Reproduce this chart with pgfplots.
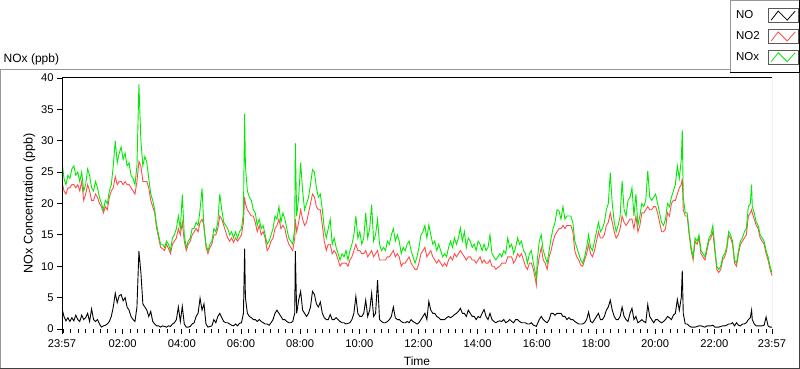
\documentclass[border=0pt]{standalone}
\usepackage{fontspec}
\setmainfont{Liberation Sans}
\usepackage{pgfplots}
\usepackage{pgfplotstable}
\pgfplotsset{compat=1.18}
\definecolor{noxgreen}{RGB}{0,235,0}
\definecolor{notwored}{RGB}{255,77,77}
\definecolor{framegray}{RGB}{150,150,150}

\pgfplotstableread{
t no no2 nox
0 3.3 23.5 26.8
4 2.0 22.0 24.0
8 1.3 21.5 23.0
12 1.8 22.5 24.5
16 1.2 22.5 24.0
20 1.8 23.0 25.5
24 1.3 23.0 26.0
28 2.2 22.5 24.5
32 1.5 23.0 25.0
36 1.2 22.0 23.5
40 2.2 23.5 25.0
44 1.5 20.5 22.0
48 1.8 21.5 23.0
52 2.5 23.0 25.5
56 1.2 22.0 24.5
60 3.2 20.5 22.5
64 1.5 20.5 22.0
68 1.2 21.5 23.5
72 1.5 21.0 22.5
76 0.8 20.0 21.0
80 0.3 19.5 20.0
84 0.5 18.5 19.0
88 0.6 19.5 20.5
92 0.8 19.0 20.0
96 1.2 21.0 22.0
100 2.0 22.0 23.0
104 3.5 22.5 26.0
108 5.7 24.3 30.0
112 4.2 23.0 26.5
116 5.3 23.5 28.0
120 5.5 23.5 29.0
124 4.5 23.0 27.0
128 5.0 23.5 28.0
132 3.5 23.0 26.0
136 3.0 23.0 26.5
140 2.0 22.5 24.5
144 1.5 22.0 24.0
148 1.2 21.5 23.0
152 3.5 23.5 26.0
156 12.4 26.7 39.0
160 9.0 26.0 30.0
164 4.0 23.5 26.0
168 3.5 23.5 27.5
172 3.0 23.5 26.5
176 2.0 22.5 24.0
180 2.8 20.5 21.5
184 1.2 19.5 20.5
188 0.8 18.5 19.0
192 0.5 16.0 16.5
196 0.5 14.5 15.0
200 0.3 13.0 13.5
204 0.5 12.8 13.5
208 0.4 12.5 13.0
212 0.3 13.5 14.0
216 0.5 12.8 13.5
220 0.4 12.0 12.5
224 0.8 13.5 14.5
228 1.0 14.0 15.0
232 1.5 14.5 16.0
236 3.5 16.0 18.0
240 1.2 15.0 16.0
244 3.6 17.0 21.4
248 0.8 14.0 15.0
252 0.3 12.5 13.0
256 0.3 13.5 14.0
260 0.4 14.0 14.5
264 0.8 15.0 16.0
268 1.0 15.5 16.0
272 2.0 16.0 17.0
276 2.5 15.5 16.5
280 4.9 17.0 19.0
284 3.0 17.5 22.4
288 4.0 16.5 16.0
292 0.8 13.0 13.5
296 0.3 12.0 12.5
300 0.4 13.0 13.5
304 0.5 13.5 14.0
308 1.5 15.0 16.0
312 1.0 15.0 15.5
316 2.0 16.0 17.0
320 2.5 18.0 21.5
324 1.8 17.5 19.0
328 1.2 16.5 17.0
332 1.0 15.5 16.5
336 1.0 14.5 16.0
340 0.8 14.0 15.0
344 0.6 14.5 15.5
348 0.5 13.8 14.5
352 0.8 14.5 15.5
356 0.5 14.0 14.5
360 0.9 14.5 15.5
364 1.0 15.0 16.0
368 2.5 17.0 18.5
370.4 12.8 21.0 34.3
372 5.0 20.0 26.0
376 2.5 19.0 22.0
380 2.0 18.5 21.0
384 1.8 18.0 20.5
388 1.5 18.0 19.0
392 1.5 17.0 18.5
396 1.2 15.5 16.5
400 1.5 16.5 17.5
404 1.2 15.0 16.0
408 1.0 15.5 16.5
412 0.8 14.5 15.0
416 0.8 12.5 13.5
420 0.6 13.0 14.0
424 1.0 14.0 15.0
428 1.5 14.5 16.0
432 2.5 16.0 18.0
436 3.0 16.5 17.5
440 2.5 17.5 19.5
444 2.0 16.0 17.0
448 1.5 16.5 18.5
452 1.5 16.0 17.5
456 1.2 14.5 16.0
460 1.0 13.5 14.5
464 1.0 13.0 14.0
468 1.2 12.5 13.5
472 2.5 14.5 16.0
473.2 12.4 17.5 29.6
476 2.5 15.5 18.0
480 4.6 17.0 21.0
484 6.0 19.0 26.5
488 3.0 17.5 22.0
492 2.5 16.5 19.0
496 2.0 17.0 20.0
500 2.5 18.5 21.0
504 3.5 20.0 23.0
508 6.0 21.5 25.4
512 5.5 21.0 25.0
516 4.0 19.5 22.5
520 3.5 19.0 21.0
524 4.3 19.0 21.5
528 2.5 16.5 19.0
532 1.8 14.0 16.0
536 1.5 12.5 14.5
540 1.5 13.5 16.0
544 2.3 13.5 17.5
548 1.5 12.0 13.5
552 1.5 12.5 14.5
556 1.8 12.0 13.0
560 1.5 11.0 12.0
564 1.2 10.0 11.0
568 1.0 10.5 12.0
572 1.0 10.5 11.5
576 0.8 10.5 12.5
580 0.9 10.0 11.0
584 1.0 11.0 12.5
588 1.5 11.5 13.5
592 2.5 12.5 15.0
596 5.2 13.5 18.0
600 2.5 12.5 14.5
604 2.0 12.5 15.5
608 2.0 12.0 13.5
612 2.5 12.0 14.5
616 4.6 12.5 18.5
620 2.0 11.5 14.5
624 3.0 12.0 16.0
628 5.7 12.5 19.8
632 2.0 11.5 14.0
636 2.5 12.0 15.0
640 7.8 12.5 17.5
644 1.5 11.0 13.5
648 1.2 11.0 12.5
652 1.0 11.0 13.0
656 1.0 11.0 12.5
660 1.2 11.5 14.0
664 1.5 11.5 13.5
668 2.0 12.0 15.0
672 3.5 12.5 16.0
676 1.8 11.5 14.0
680 1.5 12.0 15.0
684 1.5 11.5 14.0
688 1.2 10.0 12.0
692 1.0 10.5 13.0
696 1.0 10.5 12.5
700 1.2 11.0 13.5
704 1.0 11.5 14.0
708 1.5 10.5 12.5
712 1.2 10.0 11.5
716 1.0 9.5 10.5
720 0.8 9.5 11.5
724 1.0 10.5 13.0
728 1.5 12.0 15.0
732 2.0 12.5 15.5
736 2.5 13.0 16.5
740 1.5 11.5 14.5
744 4.4 12.0 16.6
748 3.0 12.5 15.0
752 2.5 11.5 13.5
756 2.5 11.0 14.0
760 2.0 10.5 12.5
764 1.8 11.0 13.5
768 1.5 10.5 12.5
772 1.5 10.0 11.5
776 1.5 10.5 12.0
780 1.8 10.0 11.5
784 2.0 11.0 13.0
788 1.8 11.5 14.0
792 2.0 11.0 13.0
796 2.3 12.0 14.5
800 2.5 11.5 13.5
804 2.8 12.0 14.5
808 3.3 12.5 16.1
812 2.5 12.0 14.0
816 2.5 11.5 15.5
820 2.0 11.0 13.0
824 3.0 11.5 14.5
828 2.5 11.5 14.0
832 2.0 11.0 13.0
836 2.0 11.0 13.5
840 1.5 10.5 12.5
844 2.0 11.0 14.0
848 1.8 11.5 13.5
852 2.5 10.5 12.5
856 3.1 11.0 13.5
860 2.0 10.5 12.5
864 1.5 10.5 13.0
868 2.5 11.0 15.0
872 1.5 10.0 12.0
876 1.2 10.0 11.5
880 1.0 9.5 11.0
884 1.2 9.8 11.5
888 1.3 10.0 12.0
892 1.2 10.5 11.5
896 1.5 10.5 12.5
900 1.0 10.5 12.0
904 1.2 11.5 14.5
908 1.5 11.5 13.0
912 1.2 11.5 13.5
916 1.0 10.5 12.0
920 1.5 11.0 13.0
924 1.5 12.0 14.5
928 1.2 11.5 13.5
932 1.0 12.0 14.0
936 1.0 11.0 12.5
940 1.0 10.0 12.0
944 0.8 9.5 10.5
948 0.8 10.5 12.0
952 1.0 10.5 12.5
956 0.6 9.5 10.5
960 0.5 8.0 9.0
962 0.4 7.0 8.1
964 0.8 9.5 11.0
968 1.5 11.5 14.0
972 2.0 13.0 15.0
976 1.5 11.0 12.5
980 1.2 10.5 11.5
984 1.0 9.5 10.5
988 1.5 11.5 12.5
992 2.5 12.5 14.5
996 2.5 14.0 16.0
1000 2.2 15.0 17.0
1004 2.5 15.5 19.0
1008 2.5 16.0 18.8
1012 2.5 16.0 17.5
1016 2.0 16.5 19.5
1020 2.0 16.0 17.5
1024 1.5 16.5 18.0
1028 1.8 16.5 18.0
1032 1.5 16.5 18.0
1036 1.5 15.5 17.0
1040 1.2 12.5 14.0
1044 1.0 11.5 13.0
1048 0.8 11.0 12.0
1052 0.8 10.2 11.0
1056 0.8 10.0 10.5
1060 1.0 11.0 11.5
1064 1.5 12.0 13.0
1068 2.7 13.5 15.0
1072 1.2 12.0 13.0
1076 1.0 11.5 12.5
1080 1.5 12.5 14.0
1084 2.0 14.0 15.5
1088 2.5 15.5 17.0
1092 1.5 14.5 15.5
1096 1.5 14.5 16.0
1100 2.0 15.0 17.0
1104 3.0 16.5 19.0
1108 3.5 17.0 20.0
1112 4.6 18.5 24.9
1116 3.0 17.0 20.0
1120 2.0 15.5 17.0
1124 1.5 14.5 15.5
1128 1.5 15.0 16.5
1132 2.0 16.0 18.0
1136 3.5 18.0 23.6
1140 2.0 17.0 19.0
1144 1.5 16.5 18.0
1148 1.2 17.0 20.5
1152 2.5 17.5 21.0
1156 3.3 17.5 22.5
1160 1.5 16.0 18.0
1164 2.0 18.0 21.5
1168 1.0 15.5 16.5
1172 1.2 16.5 18.0
1176 1.5 18.5 20.0
1180 1.2 18.5 19.5
1184 1.0 19.0 20.5
1188 3.9 19.5 25.2
1192 2.0 19.0 21.0
1196 1.5 19.0 20.5
1200 1.0 19.5 21.0
1204 1.5 19.5 21.5
1208 1.5 18.5 20.0
1212 1.2 17.0 18.5
1216 1.0 15.5 17.0
1220 1.2 15.5 16.5
1224 1.5 16.0 17.5
1228 2.0 18.5 20.0
1232 1.8 18.0 19.5
1236 1.5 20.0 21.0
1240 2.2 20.5 22.0
1244 2.5 20.5 23.0
1248 4.7 21.5 26.0
1252 3.0 22.5 24.0
1256 5.0 23.0 27.0
1258 9.3 24.0 31.7
1260 2.5 19.0 21.0
1264 0.8 18.0 18.5
1268 0.8 18.0 18.5
1272 0.5 15.0 15.5
1276 0.3 12.5 13.0
1280 0.3 11.0 11.5
1284 0.3 14.0 14.5
1288 0.4 13.5 14.0
1292 0.5 14.5 15.0
1296 0.5 12.0 12.5
1300 0.4 11.5 12.0
1304 0.3 11.0 11.5
1308 0.5 12.5 13.0
1312 0.5 14.0 14.5
1316 0.5 14.5 15.0
1320 0.6 15.5 16.5
1324 0.3 12.5 13.0
1328 0.3 9.5 10.0
1332 0.3 9.0 9.5
1336 0.4 9.5 10.0
1340 0.5 11.0 11.5
1344 0.5 11.5 12.0
1348 0.6 12.5 13.0
1352 0.8 15.0 15.5
1356 0.8 14.5 15.0
1360 1.0 13.5 14.0
1364 0.5 10.5 11.0
1368 1.0 10.0 10.5
1372 0.6 12.0 12.5
1376 0.5 13.5 14.0
1380 0.8 14.0 14.5
1384 0.8 14.5 15.5
1388 1.0 15.0 16.0
1392 1.5 18.0 19.5
1396 1.8 18.5 20.0
1398.6 3.0 19.0 23.0
1400 1.5 18.5 19.5
1404 0.8 17.5 18.5
1408 0.5 16.5 17.0
1412 0.5 16.0 16.5
1416 0.5 14.5 15.0
1420 0.5 14.0 14.5
1424 0.6 13.5 14.0
1428 1.9 12.0 12.5
1432 0.5 11.0 11.5
1436 0.3 9.5 10.0
1440 0.3 8.5 9.0
}\noxdata

\begin{document}
\begin{tikzpicture}[font=\fontsize{11.5bp}{13.5bp}\selectfont]
\useasboundingbox (0,0) rectangle (800bp,369bp);
% panel frame
\draw[framegray, line width=1bp] (0.5bp,0bp) -- (0.5bp,299.5bp) -- (730bp,299.5bp);
\draw[black!75, line width=1bp] (0bp,0.5bp) -- (799.5bp,0.5bp) -- (799.5bp,296bp);
% legend frame
\draw[framegray, line width=1bp] (730.5bp,296bp) -- (730.5bp,368.5bp) -- (800bp,368.5bp);
\draw[black, line width=1bp] (730bp,296.5bp) -- (799.5bp,296.5bp) -- (799.5bp,369bp);
\node[anchor=west, inner sep=0pt, font=\fontsize{12bp}{14bp}\selectfont] at (3.5bp,310bp) {NOx (ppb)};
\begin{axis}[
  at={(62bp,40bp)}, anchor=south west,
  scale only axis, width=710bp, height=251bp,
  xmin=0, xmax=1440, ymin=0, ymax=40,
  xtick={0,123,243,363,483,603,723,843,963,1083,1203,1323,1440},
  xticklabels={23:57,02:00,04:00,06:00,08:00,10:00,12:00,14:00,16:00,18:00,20:00,22:00,23:57},
  minor xtick={3,18,...,1428},
  ytick={0,5,...,40},
  tick pos=left,
  tick align=outside,
  major tick length=5bp, minor tick length=3.5bp,
  every tick/.style={black, line width=0.8bp},
  axis line style={draw=none},
  /pgf/number format/assume math mode=true,
  ticklabel style={font=\fontsize{11.2bp}{13bp}\selectfont},
  xticklabel style={yshift=-2bp},
  xlabel={Time}, ylabel={NOx Concentration (ppb)},
  xlabel style={font=\fontsize{12bp}{14bp}\selectfont, yshift=-3bp},
  ylabel style={font=\fontsize{12.6bp}{14bp}\selectfont, yshift=-1bp},
  legend plot pos=right,
  legend cell align=left,
  legend style={at={(axis description cs:0.9408,1.3028)}, anchor=north west,
    draw=none, fill=none, inner xsep=4bp, inner ysep=6bp,
    row sep=6bp, column sep=6bp,
    font=\fontsize{11.5bp}{13.5bp}\selectfont},
  legend image code/.code={
    \draw[draw=black!65, fill=white, line width=0.8bp] (0bp,-7bp) rectangle (30bp,7bp);
    \draw[#1, line width=0.8bp] (3bp,-4.5bp) -- (10bp,4.5bp) -- (19bp,-4.5bp) -- (27bp,4.5bp);
  },
]
\addplot[black, line width=0.9bp] table[x=t, y=no] {\noxdata};
\addlegendentry{NO}
\addplot[notwored, line width=0.9bp] table[x=t, y=no2] {\noxdata};
\addlegendentry{NO2}
\addplot[noxgreen, line width=0.9bp] table[x=t, y=nox] {\noxdata};
\addlegendentry{NOx}
\draw[black, line width=1bp] (axis description cs:0,0) -- (axis description cs:0,1) -- (axis description cs:1,1);
\draw[framegray, line width=1bp] (axis description cs:1,1) -- (axis description cs:1,0) -- (axis description cs:0,0);
\end{axis}
\end{tikzpicture}
\end{document}
